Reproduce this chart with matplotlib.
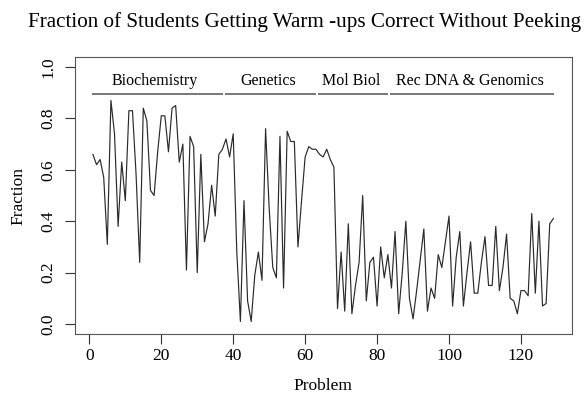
import matplotlib
matplotlib.use("Agg")
import matplotlib.pyplot as plt
import numpy as np

# fraction correct per warm-up problem
fraction = [
    0.66, 0.62, 0.64, 0.57, 0.31, 0.87, 0.74, 0.38, 0.63, 0.48,
    0.83, 0.83, 0.58, 0.24, 0.84, 0.79, 0.52, 0.50, 0.67, 0.81,
    0.81, 0.67, 0.84, 0.85, 0.63, 0.70, 0.21, 0.73, 0.69, 0.20,
    0.66, 0.32, 0.39, 0.54, 0.42, 0.66, 0.68, 0.72, 0.65, 0.74,
    0.28, 0.01, 0.48, 0.09, 0.01, 0.19, 0.28, 0.17, 0.76, 0.45,
    0.22, 0.18, 0.73, 0.14, 0.75, 0.71, 0.71, 0.30, 0.48, 0.65,
    0.69, 0.68, 0.68, 0.66, 0.65, 0.68, 0.64, 0.61, 0.06, 0.28,
    0.05, 0.39, 0.04, 0.15, 0.24, 0.50, 0.09, 0.24, 0.26, 0.07,
    0.30, 0.18, 0.27, 0.14, 0.36, 0.04, 0.20, 0.40, 0.10, 0.02,
    0.13, 0.25, 0.37, 0.05, 0.14, 0.10, 0.27, 0.22, 0.32, 0.42,
    0.07, 0.26, 0.36, 0.07, 0.20, 0.32, 0.12, 0.12, 0.24, 0.34,
    0.15, 0.15, 0.38, 0.13, 0.22, 0.35, 0.10, 0.09, 0.04, 0.13,
    0.13, 0.11, 0.43, 0.12, 0.40, 0.07, 0.08, 0.39, 0.41,
]
problem = np.arange(1, len(fraction) + 1)

groups = ["Biochemistry", "Genetics", "Mol Biol", "Rec DNA & Genomics"]
group_start = [1, 38, 64, 84]
group_end = [37, 63, 83, 129]

x_ticks = [0, 20, 40, 60, 80, 100, 120]
y_ticks = [0.0, 0.2, 0.4, 0.6, 0.8, 1.0]

plt.rcParams["font.family"] = ["Liberation Serif", "DejaVu Serif"]

fig = plt.figure(figsize=(5.84, 4.01), dpi=100)
ax = fig.add_axes([0.1276, 0.1663, 0.979 - 0.1276, 0.8586 - 0.1663])

ax.plot(problem, fraction, color="#2a2a2a", linewidth=0.85)

for name, s, e in zip(groups, group_start, group_end):
    ax.plot([s - 0.3, e + 0.05], [0.895, 0.895], color="#777777", linewidth=1.4,
            solid_capstyle="butt")
    ax.text((s + e) / 2 - 0.8, 0.947, name, ha="center", va="center", fontsize=11.5)

pad_x = 0.04 * (len(fraction) - 1)
ax.set_xlim(1 - pad_x, len(fraction) + pad_x)
ax.set_ylim(-0.04, 1.04)
ax.set_xticks(x_ticks)
ax.set_xticklabels([str(t) for t in x_ticks])
ax.set_yticks(y_ticks)
ax.set_yticklabels([f"{t:.1f}" for t in y_ticks], rotation=90, va="center")
ax.tick_params(axis="both", direction="out", length=7, width=0.8, labelsize=12.5,
               color="#333333")
ax.tick_params(axis="x", pad=3)
ax.tick_params(axis="y", pad=6)
for sp in ax.spines.values():
    sp.set_linewidth(0.8)
    sp.set_color("#555555")

ax.set_xlabel("Problem", fontsize=12.5, labelpad=10)
ax.set_ylabel("Fraction", fontsize=12.5, labelpad=10)
fig.text(305 / 584, 1 - 22 / 401, "Fraction of Students Getting Warm -ups Correct Without Peeking",
         ha="center", va="center", fontsize=15.2)

fig.savefig("out.png", dpi=100)
